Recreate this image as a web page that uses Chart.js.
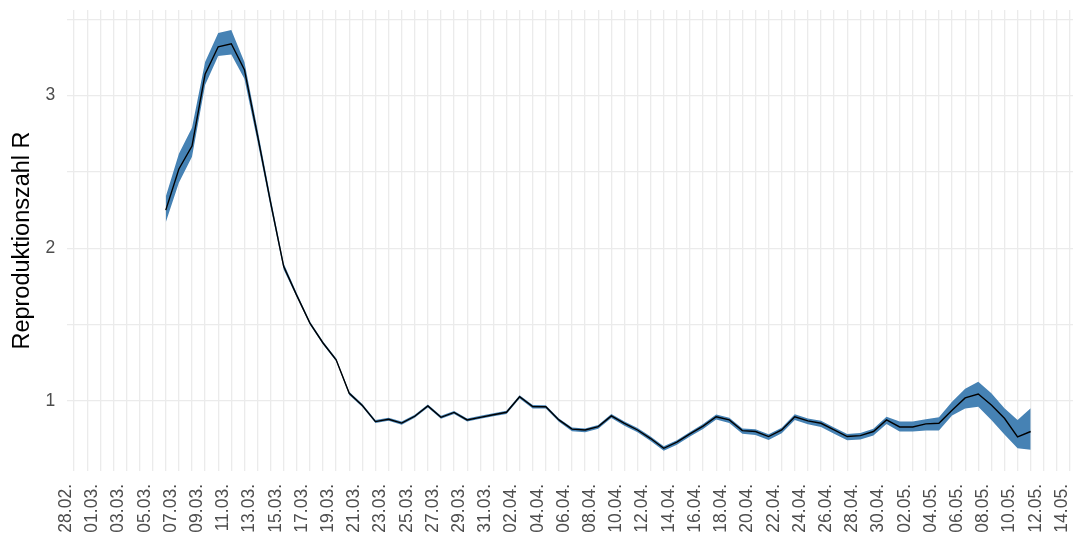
<!DOCTYPE html>
<html>
<head>
<meta charset="utf-8">
<script src="https://cdn.jsdelivr.net/npm/chart.js@4.4.1/dist/chart.umd.min.js"></script>
<style>
  html, body { margin: 0; padding: 0; background: #fff; }
  canvas { display: block; }
</style>
</head>
<body>
<canvas id="rChart" width="1073" height="541"></canvas>
<script>
// every day on the axis, 28.02. .. 14.05. (2020)
const dayLabels = [
  "28.02.", "29.02.",
  "01.03.", "02.03.", "03.03.", "04.03.", "05.03.", "06.03.", "07.03.", "08.03.", "09.03.", "10.03.",
  "11.03.", "12.03.", "13.03.", "14.03.", "15.03.", "16.03.", "17.03.", "18.03.", "19.03.", "20.03.",
  "21.03.", "22.03.", "23.03.", "24.03.", "25.03.", "26.03.", "27.03.", "28.03.", "29.03.", "30.03.", "31.03.",
  "01.04.", "02.04.", "03.04.", "04.04.", "05.04.", "06.04.", "07.04.", "08.04.", "09.04.", "10.04.",
  "11.04.", "12.04.", "13.04.", "14.04.", "15.04.", "16.04.", "17.04.", "18.04.", "19.04.", "20.04.",
  "21.04.", "22.04.", "23.04.", "24.04.", "25.04.", "26.04.", "27.04.", "28.04.", "29.04.", "30.04.",
  "01.05.", "02.05.", "03.05.", "04.05.", "05.05.", "06.05.", "07.05.", "08.05.", "09.05.", "10.05.",
  "11.05.", "12.05.", "13.05.", "14.05."
];

// series runs 06.03. .. 11.05.
const firstDay = "06.03.";

const rValue = [
  2.25, 2.52, 2.67, 3.14, 3.32, 3.34, 3.17, 2.74, 2.30, 1.88,
  1.69, 1.51, 1.38, 1.27, 1.05, 0.97, 0.865, 0.88, 0.855, 0.90,
  0.967, 0.893, 0.925, 0.876, 0.893, 0.91, 0.926, 1.028, 0.963, 0.962,
  0.876, 0.816, 0.81, 0.832, 0.902, 0.853, 0.81, 0.754, 0.69, 0.73,
  0.784, 0.835, 0.897, 0.876, 0.806, 0.80, 0.767, 0.81, 0.897, 0.87,
  0.854, 0.81, 0.767, 0.773, 0.80, 0.876, 0.83, 0.83, 0.85, 0.854,
  0.94, 1.02, 1.046, 0.974, 0.887, 0.765, 0.80
];

const rUpper = [
  2.34, 2.62, 2.79, 3.22, 3.41, 3.43, 3.22, 2.78, 2.33, 1.90,
  1.705, 1.52, 1.39, 1.28, 1.06, 0.98, 0.875, 0.89, 0.865, 0.91,
  0.977, 0.903, 0.935, 0.886, 0.903, 0.92, 0.936, 1.038, 0.973, 0.972,
  0.886, 0.826, 0.82, 0.842, 0.914, 0.866, 0.823, 0.767, 0.703, 0.743,
  0.797, 0.849, 0.911, 0.89, 0.82, 0.815, 0.782, 0.825, 0.913, 0.886,
  0.87, 0.826, 0.784, 0.79, 0.818, 0.897, 0.865, 0.865, 0.88, 0.893,
  0.995, 1.08, 1.126, 1.05, 0.952, 0.876, 0.952
];

const rLower = [
  2.17, 2.43, 2.60, 3.07, 3.26, 3.27, 3.11, 2.70, 2.27, 1.86,
  1.68, 1.50, 1.37, 1.26, 1.04, 0.96, 0.855, 0.87, 0.845, 0.89,
  0.957, 0.883, 0.915, 0.866, 0.883, 0.90, 0.914, 1.016, 0.951, 0.950,
  0.864, 0.802, 0.796, 0.818, 0.888, 0.838, 0.795, 0.738, 0.674, 0.714,
  0.767, 0.817, 0.878, 0.856, 0.785, 0.778, 0.745, 0.788, 0.875, 0.847,
  0.83, 0.786, 0.742, 0.748, 0.774, 0.85, 0.80, 0.80, 0.806, 0.806,
  0.905, 0.95, 0.963, 0.876, 0.78, 0.69, 0.68
];

const yGridValues = [1, 1.5, 2, 2.5, 3, 3.5];

const start = dayLabels.indexOf(firstDay);
const points = arr => arr.map((v, i) => ({ x: start + i, y: v }));

const font = "'Liberation Sans', Arial, sans-serif";
const gridColor = "#ebebeb";
const tickColor = "#4d4d4d";

// drop the label overhang chart.js reserves around the plot
const noOverhang = scale => {
  scale.paddingLeft = 0;
  scale.paddingRight = 0;
  scale.paddingTop = 0;
  scale.paddingBottom = 0;
};

new Chart(document.getElementById("rChart"), {
  type: "line",
  data: {
    datasets: [
      { label: "R", data: points(rValue), borderColor: "#000", borderWidth: 1.4, pointRadius: 0, tension: 0, fill: false, order: 0 },
      { label: "upper", data: points(rUpper), borderWidth: 0, borderColor: "rgba(0,0,0,0)", backgroundColor: "#4682b4", pointRadius: 0, tension: 0, fill: "+1", order: 1 },
      { label: "lower", data: points(rLower), borderWidth: 0, borderColor: "rgba(0,0,0,0)", pointRadius: 0, tension: 0, fill: false, order: 2 }
    ]
  },
  options: {
    responsive: false,
    animation: false,
    devicePixelRatio: 1,
    layout: { padding: { top: 10, left: 0, right: 0, bottom: 0 } },
    plugins: { legend: { display: false }, tooltip: { enabled: false } },
    scales: {
      x: {
        type: "linear",
        min: -0.515,
        max: 76.23,
        afterBuildTicks: scale => { scale.ticks = dayLabels.map((_, i) => ({ value: i })); },
        afterFit: scale => { scale.height = 70; noOverhang(scale); },
        grid: { color: gridColor, lineWidth: 1.3, drawTicks: false },
        border: { display: false },
        ticks: {
          autoSkip: false,
          minRotation: 90,
          maxRotation: 90,
          padding: 13,
          labelOffset: -8,
          color: tickColor,
          font: { family: font, size: 17.5 },
          callback: (value, index) => index % 2 === 0 ? dayLabels[index] : ""
        }
      },
      y: {
        min: 0.5414,
        max: 3.561,
        afterBuildTicks: scale => { scale.ticks = yGridValues.map(v => ({ value: v })); },
        afterFit: scale => { scale.width = 67.3; noOverhang(scale); },
        grid: { color: gridColor, lineWidth: 1.3, drawTicks: false },
        border: { display: false },
        ticks: {
          padding: 12,
          color: tickColor,
          font: { family: font, size: 17.5 },
          callback: value => Number.isInteger(value) ? String(value) : ""
        },
        title: {
          display: true,
          text: "Reproduktionszahl R",
          color: "#000",
          font: { family: font, size: 23.5 },
          padding: { top: 8, bottom: 0 }
        }
      }
    }
  }
});
</script>
</body>
</html>
